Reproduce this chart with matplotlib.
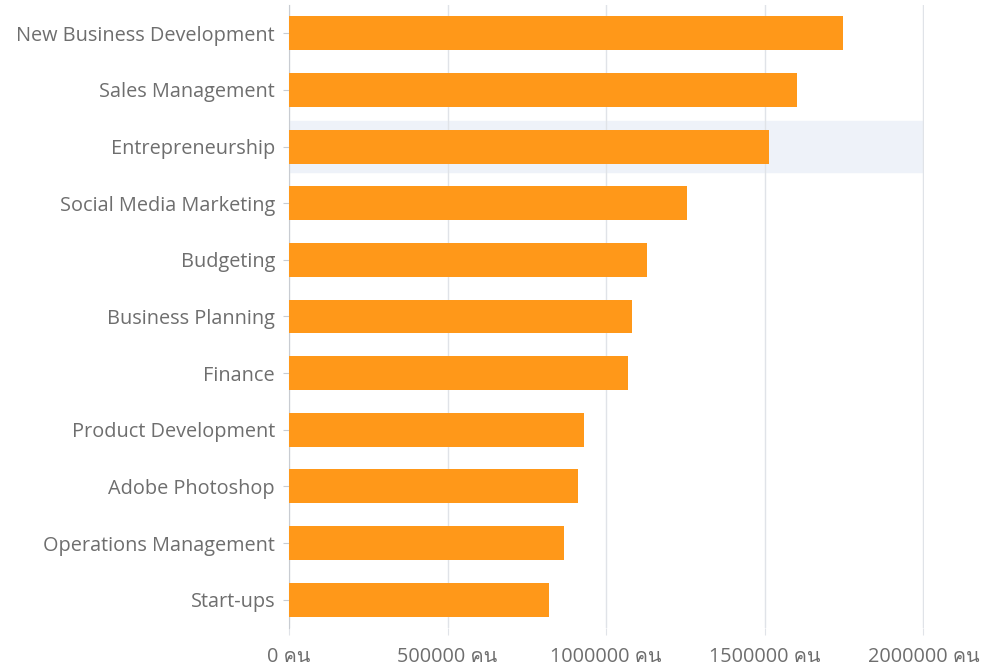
import matplotlib
matplotlib.use("Agg")
import matplotlib.pyplot as plt
from matplotlib import font_manager
from matplotlib.ft2font import FT2Font

skills = ["New Business Development", "Sales Management", "Entrepreneurship",
          "Social Media Marketing", "Budgeting", "Business Planning", "Finance",
          "Product Development", "Adobe Photoshop", "Operations Management",
          "Start-ups"]
people = [1748000, 1603000, 1514000, 1256000, 1129000, 1082000, 1069000,
          931000, 912000, 868000, 820000]
xticks = [0, 500000, 1000000, 1500000, 2000000]
highlight = "Entrepreneurship"

# find a font with Thai glyphs for the "คน" unit
thai = None
for f in font_manager.fontManager.ttflist:
    try:
        if 0x0E04 in FT2Font(f.fname).get_charmap():
            thai = f.name
            break
    except Exception:
        pass
fams = ["Open Sans"] + ([thai] if thai else []) + ["DejaVu Sans"]
plt.rcParams["font.family"] = fams

fig = plt.figure(figsize=(9.86, 6.66), dpi=100)
ax = fig.add_axes([289/986, 1 - 628/666, (924-289)/986, (628-5)/666])

y = list(range(len(skills)))
hi = skills.index(highlight)
ax.axhspan(hi - 0.45, hi + 0.45, xmax=2000000/2002000, color="#eef2f9", zorder=0)
ax.barh(y, people, height=0.6, color="#ff9819", zorder=3)

ax.set_xlim(0, 2002000)
ax.set_ylim(len(skills) - 0.5, -0.5)
ax.set_yticks(y)
ax.set_yticklabels(skills)
ax.set_xticks(xticks)
ax.set_xticklabels([f"{v} คน" for v in xticks])
ax.grid(axis="x", color="#e0e3e8", linewidth=1, zorder=1)
ax.set_axisbelow(True)

for s in ["top", "right", "bottom"]:
    ax.spines[s].set_visible(False)
ax.spines["left"].set_color("#c8ccd2")
ax.tick_params(axis="y", length=4, color="#c8ccd2", labelsize=14.3,
               labelcolor="#6e6e6e", pad=6)
ax.tick_params(axis="x", length=5, color="#e0e3e8", labelsize=14.3,
               labelcolor="#6e6e6e", pad=9)

fig.savefig("out.png", dpi=100)
